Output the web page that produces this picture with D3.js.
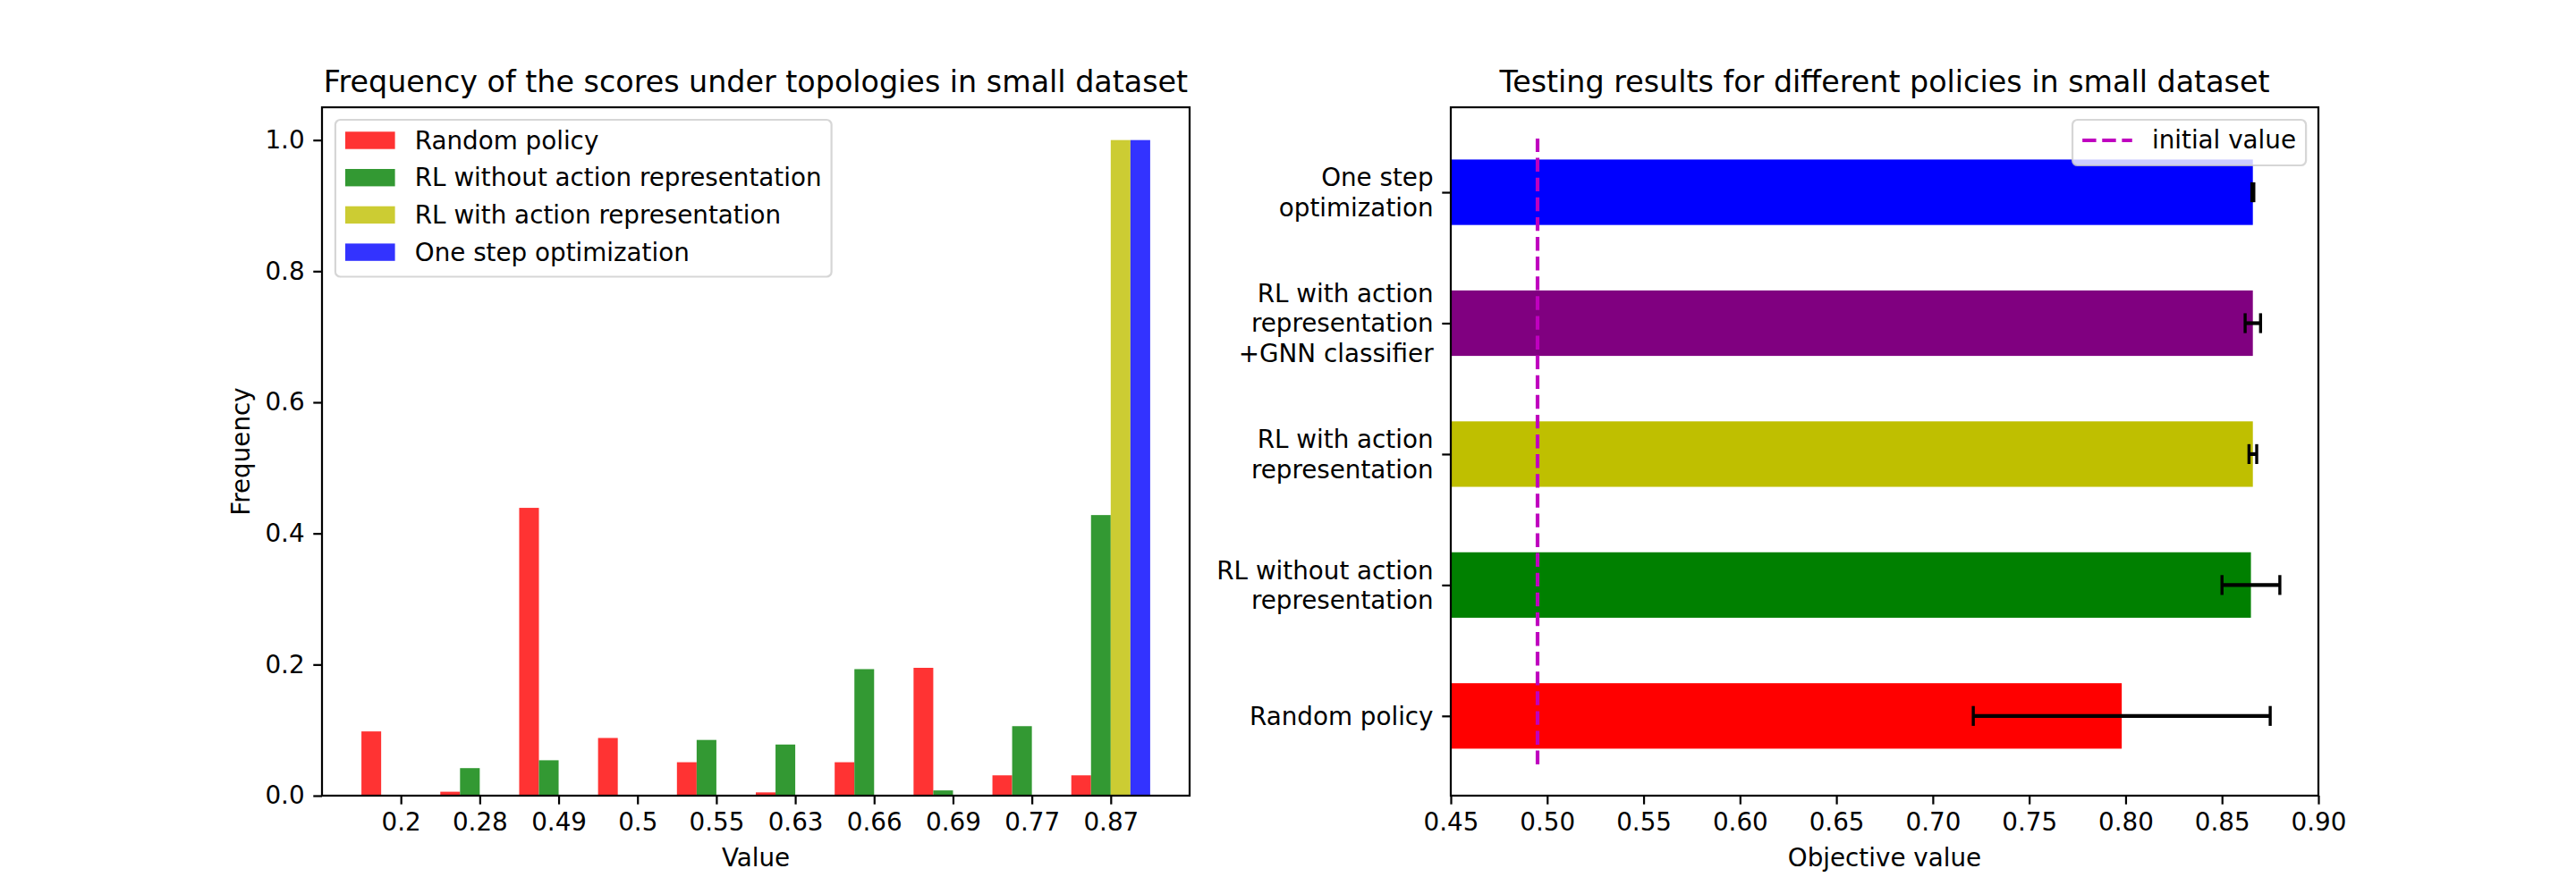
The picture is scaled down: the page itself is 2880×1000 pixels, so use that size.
<!DOCTYPE html>
<html>
<head>
<meta charset="utf-8">
<script src="https://cdn.jsdelivr.net/npm/d3@7"></script>
<style>
  html, body { margin: 0; padding: 0; background: #fff; }
  svg { display: block; font-family: "DejaVu Sans", sans-serif; }
</style>
</head>
<body>
<svg id="chart" width="2880" height="1000"></svg>
<script>
// ---------------- data ----------------
const histCategories = ["0.2", "0.28", "0.49", "0.5", "0.55", "0.63", "0.66", "0.69", "0.77", "0.87"];
const histSeriesNames = ["Random policy", "RL without action representation", "RL with action representation", "One step optimization"];
const randomFreq   = [0.098, 0.006, 0.439, 0.088, 0.051, 0.005, 0.051, 0.195, 0.031, 0.031];
const rlNoActFreq  = [0.0, 0.042, 0.054, 0.0, 0.085, 0.078, 0.193, 0.008, 0.106, 0.428];
const rlActFreq    = [0, 0, 0, 0, 0, 0, 0, 0, 0, 1.0];
const oneStepFreq  = [0, 0, 0, 0, 0, 0, 0, 0, 0, 1.0];
const histYTicks   = [0.0, 0.2, 0.4, 0.6, 0.8, 1.0];

const policyLabels = ["Random policy", "RL without action\nrepresentation", "RL with action\nrepresentation", "RL with action\nrepresentation\n+GNN classifier", "One step\noptimization"];
const policyMeans  = [0.798, 0.865, 0.866, 0.866, 0.866];
const policyErrs   = [0.077, 0.015, 0.002, 0.004, 0.0005];
const initialValue = 0.495;
const initialSpan  = [-0.37, 4.41];
const objTicks     = [0.45, 0.50, 0.55, 0.60, 0.65, 0.70, 0.75, 0.80, 0.85, 0.90];

// ---------------- style ----------------
const FONT = "DejaVu Sans";
const FS = 27.78, TFS = 33.33, LW = 2.22, TICK = 9.72, PAD = 9.72;
const histColors = ["#ff3333", "#339933", "#cccc33", "#3333ff"];
const policyColors = ["#ff0000", "#008000", "#bfbf00", "#800080", "#0000ff"];

const svg = d3.select("#chart").attr("font-family", FONT);
svg.append("rect").attr("width", 2880).attr("height", 1000).attr("fill", "#fff");

const AX_TOP = 120, AX_BOT = 890;
const L1 = 360, R1 = 1330, L2 = 1622, R2 = 2592;

function styleAxis(g) {
  g.attr("font-family", FONT).attr("font-size", FS);
  g.select(".domain").remove();
  g.selectAll(".tick line").attr("stroke", "#000").attr("stroke-width", LW);
  g.selectAll(".tick text").attr("fill", "#000").attr("font-size", FS).attr("font-family", FONT);
}

// ================= Left chart =================
const x1 = d3.scaleLinear().domain([-1, 10]).range([L1, R1]);
const y1 = d3.scaleLinear().domain([0, 1.05]).range([AX_BOT, AX_TOP]);
const series = [randomFreq, rlNoActFreq, rlActFreq, oneStepFreq];
const offsets = [-0.5, -0.25, 0, 0.25];
const bw = 0.25;

const g1 = svg.append("g");
series.forEach((vals, s) => {
  g1.append("g").selectAll("rect").data(vals).join("rect")
    .attr("x", (d, i) => x1(i + offsets[s]))
    .attr("width", x1(bw) - x1(0))
    .attr("y", d => y1(d))
    .attr("height", d => y1(0) - y1(d))
    .attr("fill", histColors[s]);
});

const xa1 = svg.append("g").attr("transform", `translate(0,${AX_BOT})`)
  .call(d3.axisBottom(x1).tickValues(d3.range(histCategories.length))
    .tickFormat(i => histCategories[i]).tickSize(TICK).tickPadding(PAD));
styleAxis(xa1);
const ya1 = svg.append("g").attr("transform", `translate(${L1},0)`)
  .call(d3.axisLeft(y1).tickValues(histYTicks).tickFormat(d3.format(".1f")).tickSize(TICK).tickPadding(PAD));
styleAxis(ya1);

svg.append("rect").attr("x", L1).attr("y", AX_TOP).attr("width", R1 - L1).attr("height", AX_BOT - AX_TOP)
  .attr("fill", "none").attr("stroke", "#000").attr("stroke-width", LW);

svg.append("text").attr("x", (L1 + R1) / 2).attr("y", 103).attr("text-anchor", "middle")
  .attr("font-size", TFS).text("Frequency of the scores under topologies in small dataset");
svg.append("text").attr("x", (L1 + R1) / 2).attr("y", 969).attr("text-anchor", "middle")
  .attr("font-size", FS).text("Value");
svg.append("text").attr("transform", `translate(279,${(AX_TOP + AX_BOT) / 2}) rotate(-90)`)
  .attr("text-anchor", "middle").attr("font-size", FS).text("Frequency");

// legend left
{
  const lx = 374.9, ly = 134, rowH = 41.7, base0 = 166.7;
  const lg = svg.append("g");
  const frame = lg.append("rect").attr("x", lx).attr("y", ly).attr("rx", 5.6).attr("ry", 5.6)
    .attr("fill", "#fff").attr("fill-opacity", 0.8).attr("stroke", "#cccccc").attr("stroke-opacity", 0.8)
    .attr("stroke-width", LW);
  let maxW = 0;
  histSeriesNames.forEach((name, i) => {
    const b = base0 + i * rowH;
    lg.append("rect").attr("x", 386).attr("y", b - 19.4).attr("width", 55.6).attr("height", 19.4).attr("fill", histColors[i]);
    const t = lg.append("text").attr("x", 463.8).attr("y", b).attr("font-size", FS).text(name);
    maxW = Math.max(maxW, t.node().getComputedTextLength());
  });
  frame.attr("width", 463.8 - lx + maxW + 11.1).attr("height", 175.5);
}

// ================= Right chart =================
const ySpan = initialSpan[1] - initialSpan[0];
const x2 = d3.scaleLinear().domain([0.45, 0.90]).range([L2, R2]);
const y2 = d3.scaleLinear().domain([initialSpan[0] - 0.05 * ySpan, initialSpan[1] + 0.05 * ySpan]).range([AX_BOT, AX_TOP]);
const barH = 0.5;

svg.append("clipPath").attr("id", "clip2").append("rect")
  .attr("x", L2).attr("y", AX_TOP).attr("width", R2 - L2).attr("height", AX_BOT - AX_TOP);
const g2 = svg.append("g").attr("clip-path", "url(#clip2)");
g2.selectAll("rect.bar").data(policyMeans).join("rect").attr("class", "bar")
  .attr("x", x2(0))
  .attr("width", d => x2(d) - x2(0))
  .attr("y", (d, i) => y2(i + barH / 2))
  .attr("height", y2(0) - y2(barH))
  .attr("fill", (d, i) => policyColors[i]);

// error bars
const eg = svg.append("g");
policyMeans.forEach((m, i) => {
  const e = policyErrs[i], cy = y2(i);
  eg.append("line").attr("x1", x2(m - e)).attr("x2", x2(m + e)).attr("y1", cy).attr("y2", cy)
    .attr("stroke", "#000").attr("stroke-width", 4.17);
  [m - e, m + e].forEach(v => {
    eg.append("line").attr("x1", x2(v)).attr("x2", x2(v)).attr("y1", cy - 11.1).attr("y2", cy + 11.1)
      .attr("stroke", "#000").attr("stroke-width", 3.4);
  });
});

// initial value line
svg.append("line").attr("x1", x2(initialValue)).attr("x2", x2(initialValue))
  .attr("y1", y2(initialSpan[0])).attr("y2", y2(initialSpan[1]))
  .attr("stroke", "#bf00bf").attr("stroke-width", 4.17).attr("stroke-dasharray", "15.4,6.7");

const xa2 = svg.append("g").attr("transform", `translate(0,${AX_BOT})`)
  .call(d3.axisBottom(x2).tickValues(objTicks).tickFormat(d3.format(".2f")).tickSize(TICK).tickPadding(PAD));
styleAxis(xa2);

const ya2 = svg.append("g").attr("transform", `translate(${L2},0)`)
  .call(d3.axisLeft(y2).tickValues(d3.range(policyLabels.length)).tickFormat("").tickSize(TICK));
styleAxis(ya2);
ya2.selectAll(".tick").each(function(d) {
  const lines = policyLabels[d].split("\n");
  const t = d3.select(this).append("text").attr("x", -(TICK + PAD)).attr("text-anchor", "end")
    .attr("font-size", FS).attr("font-family", FONT).attr("fill", "#000");
  lines.forEach((ln, k) => {
    t.append("tspan").attr("x", -(TICK + PAD))
      .attr("y", (k - (lines.length - 1) / 2) * 33.3 + 9.5).text(ln);
  });
});

svg.append("rect").attr("x", L2).attr("y", AX_TOP).attr("width", R2 - L2).attr("height", AX_BOT - AX_TOP)
  .attr("fill", "none").attr("stroke", "#000").attr("stroke-width", LW);

svg.append("text").attr("x", (L2 + R2) / 2).attr("y", 103).attr("text-anchor", "middle")
  .attr("font-size", TFS).text("Testing results for different policies in small dataset");
svg.append("text").attr("x", (L2 + R2) / 2).attr("y", 969).attr("text-anchor", "middle")
  .attr("font-size", FS).text("Objective value");

// legend right
{
  const lg = svg.append("g");
  const frame = lg.append("rect").attr("y", 134).attr("rx", 5.6).attr("ry", 5.6)
    .attr("fill", "#fff").attr("fill-opacity", 0.8).attr("stroke", "#cccccc").attr("stroke-opacity", 0.8)
    .attr("stroke-width", LW).attr("height", 51);
  const t = lg.append("text").attr("y", 166.2).attr("font-size", FS).text("initial value");
  const tw = t.node().getComputedTextLength();
  const right = R2 - 13.9;
  const left = right - (11.1 + 55.6 + 22.2 + tw + 11.1);
  frame.attr("x", left).attr("width", right - left);
  t.attr("x", left + 11.1 + 55.6 + 22.2);
  lg.append("line").attr("x1", left + 11.1).attr("x2", left + 11.1 + 55.6).attr("y1", 157).attr("y2", 157)
    .attr("stroke", "#bf00bf").attr("stroke-width", 4.17).attr("stroke-dasharray", "15.4,6.7");
}
</script>
</body>
</html>
